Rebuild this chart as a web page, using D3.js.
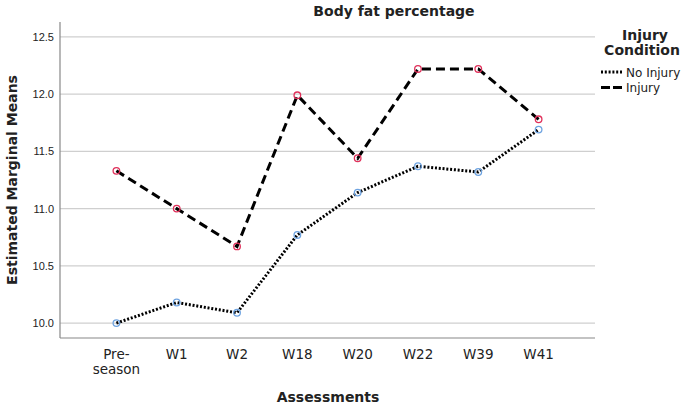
<!DOCTYPE html>
<html>
<head>
<meta charset="utf-8">
<script src="https://cdn.jsdelivr.net/npm/d3@7"></script>
<style>
body{margin:0;background:#fff;}
svg{display:block;font-family:"DejaVu Sans",Verdana,sans-serif;}
</style>
</head>
<body>
<svg id="chart" width="685" height="407"></svg>
<script>
const categories = ["Pre-\nseason","W1","W2","W18","W20","W22","W39","W41"];
const noInjury = [10.00,10.18,10.09,10.77,11.14,11.37,11.32,11.69];
const injury = [11.33,11.00,10.67,11.99,11.44,12.22,12.22,11.78];
const yTicks = [10.0,10.5,11.0,11.5,12.0,12.5];
const seriesNames = ["No Injury","Injury"];

const svg = d3.select("#chart");
const pL = 60, pR = 595, pT = 22, pB = 338;

const x = d3.scalePoint().domain(d3.range(categories.length)).range([pL, pR]).padding(0.935);
const y = d3.scaleLinear().domain([9.87, 12.63]).range([pB, pT]);

// gridlines
svg.append("g").selectAll("line").data(yTicks).join("line")
  .attr("x1", pL).attr("x2", pR)
  .attr("y1", d => y(d)).attr("y2", d => y(d))
  .attr("stroke", "#cfcfcf").attr("stroke-width", 1.2);

// y axis
const yAxis = svg.append("g").attr("transform", `translate(${pL},0)`)
  .call(d3.axisLeft(y).tickValues(yTicks).tickFormat(d3.format(".1f")).tickSize(0).tickPadding(6));
yAxis.select(".domain").remove();
yAxis.selectAll("text").attr("font-size", 11).attr("fill", "#222");

// x axis
const xAxis = svg.append("g").attr("transform", `translate(0,${pB})`)
  .call(d3.axisBottom(x).tickSize(0).tickFormat(""));
xAxis.select(".domain").remove();
categories.forEach((c, i) => {
  const lines = c.split("\n");
  const t = svg.append("text").attr("x", x(i)).attr("y", pB + 21)
    .attr("text-anchor", "middle").attr("font-size", 13.5).attr("fill", "#222");
  lines.forEach((l, j) => t.append("tspan").attr("x", x(i)).attr("dy", j === 0 ? 0 : 15).text(l));
});

// axis lines
svg.append("line").attr("x1", pL).attr("x2", pL).attr("y1", pT).attr("y2", pB)
  .attr("stroke", "#888").attr("stroke-width", 1.2);
svg.append("line").attr("x1", pL).attr("x2", pR).attr("y1", pB).attr("y2", pB)
  .attr("stroke", "#888").attr("stroke-width", 1.2);

const line = d3.line().x((d, i) => x(i)).y(d => y(d));

// lines
svg.append("path").datum(noInjury).attr("d", line).attr("fill", "none")
  .attr("stroke", "#000").attr("stroke-width", 3).attr("stroke-dasharray", "2,1.8");
svg.append("path").datum(injury).attr("d", line).attr("fill", "none")
  .attr("stroke", "#000").attr("stroke-width", 3).attr("stroke-dasharray", "9,5");

// markers
svg.append("g").selectAll("circle").data(noInjury).join("circle")
  .attr("cx", (d, i) => x(i)).attr("cy", d => y(d)).attr("r", 3.3)
  .attr("fill", "none").attr("stroke", "#6ea3e0").attr("stroke-width", 1.3);
svg.append("g").selectAll("circle").data(injury).join("circle")
  .attr("cx", (d, i) => x(i)).attr("cy", d => y(d)).attr("r", 3.3)
  .attr("fill", "none").attr("stroke", "#e0305a").attr("stroke-width", 1.3);

// title
svg.append("text").attr("x", 394).attr("y", 16).attr("text-anchor", "middle")
  .attr("font-size", 14).attr("font-weight", "bold").attr("fill", "#222").text("Body fat percentage");

// axis titles
svg.append("text").attr("x", 328).attr("y", 402).attr("text-anchor", "middle")
  .attr("font-size", 14).attr("font-weight", "bold").attr("fill", "#222").text("Assessments");
svg.append("text").attr("transform", "translate(17,180) rotate(-90)").attr("text-anchor", "middle")
  .attr("font-size", 14).attr("font-weight", "bold").attr("fill", "#222").text("Estimated Marginal Means");

// legend
svg.append("text").attr("x", 645).attr("y", 40).attr("text-anchor", "middle")
  .attr("font-size", 14).attr("font-weight", "bold").attr("fill", "#222").text("Injury");
svg.append("text").attr("x", 642).attr("y", 55).attr("text-anchor", "middle")
  .attr("font-size", 14).attr("font-weight", "bold").attr("fill", "#222").text("Condition");
const dashes = ["2,1.8", "9,3"];
seriesNames.forEach((n, i) => {
  const yy = 72 + i * 15.5;
  svg.append("line").attr("x1", 601).attr("x2", 622).attr("y1", yy).attr("y2", yy)
    .attr("stroke", "#000").attr("stroke-width", 3).attr("stroke-dasharray", dashes[i]);
  svg.append("text").attr("x", 626).attr("y", yy + 4.5).attr("font-size", 12).attr("fill", "#222").text(n);
});
</script>
</body>
</html>
